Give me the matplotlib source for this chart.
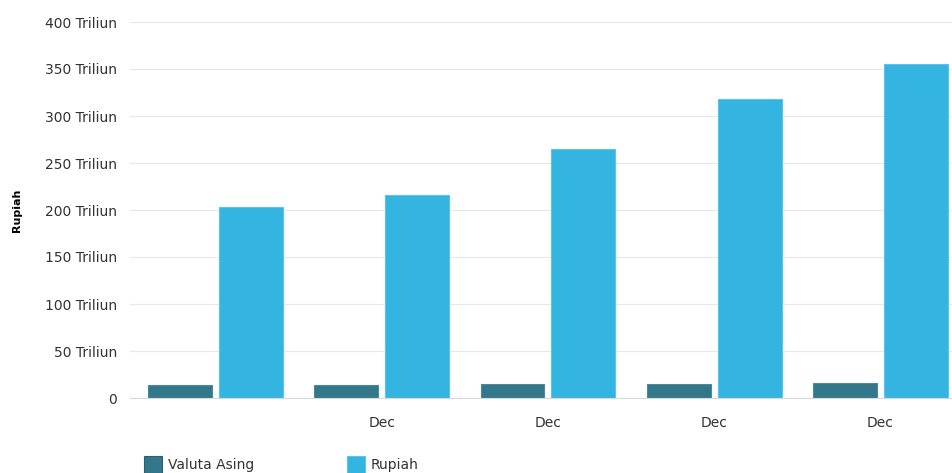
import matplotlib.pyplot as plt
import numpy as np
from matplotlib.patches import Rectangle

periods = ['', 'Dec', 'Dec', 'Dec', 'Dec']
valuta_asing = [14, 14, 15, 15, 16]
rupiah = [203, 216, 265, 318, 355]
yticks = [0, 50, 100, 150, 200, 250, 300, 350, 400]
ytick_labels = ['0'] + [f'{v} Triliun' for v in yticks[1:]]

dark = '#33778a'
light = '#34b4e0'

W, H = 952, 473
fig = plt.figure(figsize=(W / 100, H / 100), dpi=100)
ax = fig.add_axes([130 / W, (H - 398) / H, (W - 130) / W, 376 / H])

x = np.arange(len(periods))
width = 0.384
off = 0.213
ax.bar(x - off, valuta_asing, width, color=dark, edgecolor='#4a8a9c', linewidth=0.8)
ax.bar(x + off, rupiah, width, color=light, edgecolor='#5cc4e8', linewidth=0.8)

ax.set_xlim(-0.514, 4.43)
ax.set_ylim(0, 400)
ax.set_yticks(yticks)
ax.set_yticklabels(ytick_labels, fontsize=10, color='#333333')
ax.set_xticks(x)
ax.set_xticklabels(periods, fontsize=10, color='#333333')
ax.tick_params(axis='both', length=0)
ax.tick_params(axis='y', pad=9.5)
ax.tick_params(axis='x', pad=13)
ax.yaxis.grid(True, color='#e8e8e8', linewidth=0.8)
ax.set_axisbelow(True)
for s in ['top', 'right', 'left']:
    ax.spines[s].set_visible(False)
ax.spines['bottom'].set_color('#d9d9d9')

fig.text(17 / W, (H - 210) / H, 'Rupiah', rotation=90, ha='center', va='center',
         fontsize=8, fontweight='bold', color='#000000')

# legend
for lx, col, lab in [(144, dark, 'Valuta Asing'), (347, light, 'Rupiah')]:
    fig.patches.append(Rectangle((lx / W, (H - 473) / H), 18 / W, 17 / H,
                                 transform=fig.transFigure, facecolor=col,
                                 edgecolor='#2a6070' if col == dark else '#5cc4e8', linewidth=0.8))
    fig.text((lx + 24) / W, (H - 465) / H, lab, fontsize=10, color='#333333', va='center')

plt.savefig('out.png', dpi=100)
